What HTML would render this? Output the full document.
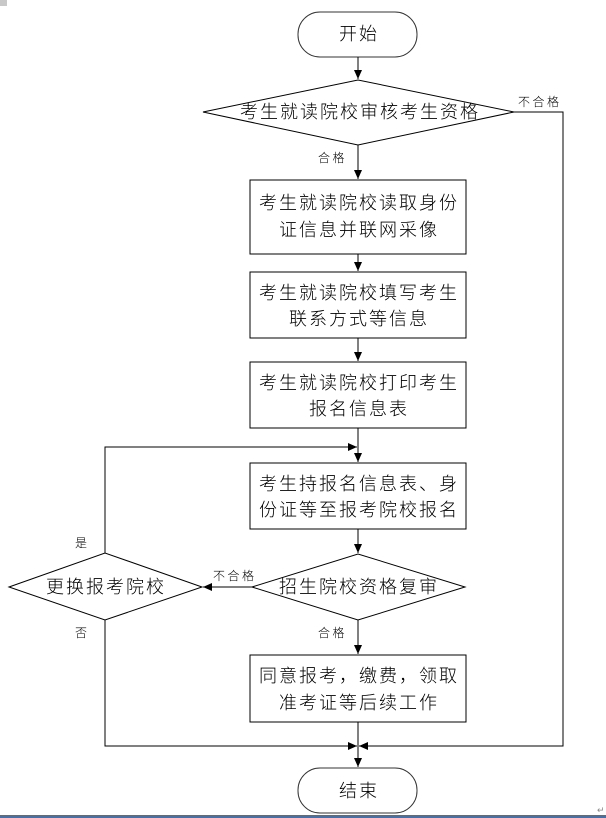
<!DOCTYPE html>
<html><head><meta charset="utf-8"><style>
html,body{margin:0;padding:0;background:#fff;}
svg{display:block;}
text{font-family:"Liberation Sans","Noto Sans CJK SC",sans-serif;fill:#000;font-weight:300;}
.b{font-size:18px;letter-spacing:2px;}
.s{font-size:12px;letter-spacing:2.5px;}
</style></head><body>
<svg width="606" height="818" viewBox="0 0 606 818" xmlns="http://www.w3.org/2000/svg">
<defs><marker id="a" markerWidth="10" markerHeight="10" refX="9" refY="5" orient="auto" markerUnits="userSpaceOnUse"><path d="M0,1 L9,5 L0,9 Z" fill="#000"/></marker></defs>
<rect x="0" y="0" width="7" height="6" fill="#c8c8c8"/>
<g fill="none" stroke="#000" stroke-width="1">
<rect x="298" y="12" width="119" height="45" rx="22" fill="#fff" stroke="#333"/>
<polygon points="203,112 358,80 514,112 358,145" fill="#fff"/>
<rect x="250" y="180" width="216" height="74"/>
<rect x="250" y="272" width="216" height="66"/>
<rect x="250" y="362" width="216" height="66"/>
<rect x="250" y="463" width="216" height="66"/>
<polygon points="252,587 358,554 465,587 358,620"/>
<polygon points="9,587 105,553 202,587 105,620"/>
<rect x="250" y="655" width="216" height="67"/>
<rect x="298" y="768" width="119" height="45" rx="22" stroke="#333"/>
<line x1="358" y1="57" x2="358" y2="79" marker-end="url(#a)"/>
<line x1="358" y1="145" x2="358" y2="179" marker-end="url(#a)"/>
<line x1="358" y1="254" x2="358" y2="271" marker-end="url(#a)"/>
<line x1="358" y1="338" x2="358" y2="361" marker-end="url(#a)"/>
<line x1="358" y1="428" x2="358" y2="462" marker-end="url(#a)"/>
<line x1="358" y1="529" x2="358" y2="553" marker-end="url(#a)"/>
<line x1="358" y1="620" x2="358" y2="654" marker-end="url(#a)"/>
<line x1="358" y1="722" x2="358" y2="767" marker-end="url(#a)"/>
<line x1="252" y1="587" x2="203" y2="587" marker-end="url(#a)"/>
<polyline points="105,553 105,447 357,447" marker-end="url(#a)"/>
<polyline points="105,620 105,746 357,746" marker-end="url(#a)"/>
<polyline points="514,112 563,112 563,746 359,746" marker-end="url(#a)"/>
</g>
<text class="b" x="359" y="40" text-anchor="middle">开始</text>
<text class="b" x="360" y="118" text-anchor="middle">考生就读院校审核考生资格</text>
<text class="s" x="518" y="106">不合格</text>
<text class="s" x="318" y="162">合格</text>
<text class="b" x="359" y="209" text-anchor="middle">考生就读院校读取身份</text>
<text class="b" x="359" y="236" text-anchor="middle">证信息并联网采像</text>
<text class="b" x="359" y="299" text-anchor="middle">考生就读院校填写考生</text>
<text class="b" x="359" y="325" text-anchor="middle">联系方式等信息</text>
<text class="b" x="359" y="389" text-anchor="middle">考生就读院校打印考生</text>
<text class="b" x="359" y="415" text-anchor="middle">报名信息表</text>
<text class="b" x="359" y="490" text-anchor="middle">考生持报名信息表、身</text>
<text class="b" x="359" y="516" text-anchor="middle">份证等至报考院校报名</text>
<text class="b" x="359" y="593" text-anchor="middle">招生院校资格复审</text>
<text class="s" x="213" y="580">不合格</text>
<text class="b" x="106" y="593" text-anchor="middle">更换报考院校</text>
<text class="s" x="75" y="547">是</text>
<text class="s" x="75" y="637">否</text>
<text class="s" x="318" y="637">合格</text>
<text class="b" x="359" y="682" text-anchor="middle">同意报考，缴费，领取</text>
<text class="b" x="359" y="709" text-anchor="middle">准考证等后续工作</text>
<text class="b" x="359" y="797" text-anchor="middle">结束</text>
<text x="597" y="813" style="font-size:9px;fill:#888">↵</text>
<rect x="0" y="815" width="606" height="3" fill="#4a6fa5"/>
</svg>
</body></html>
